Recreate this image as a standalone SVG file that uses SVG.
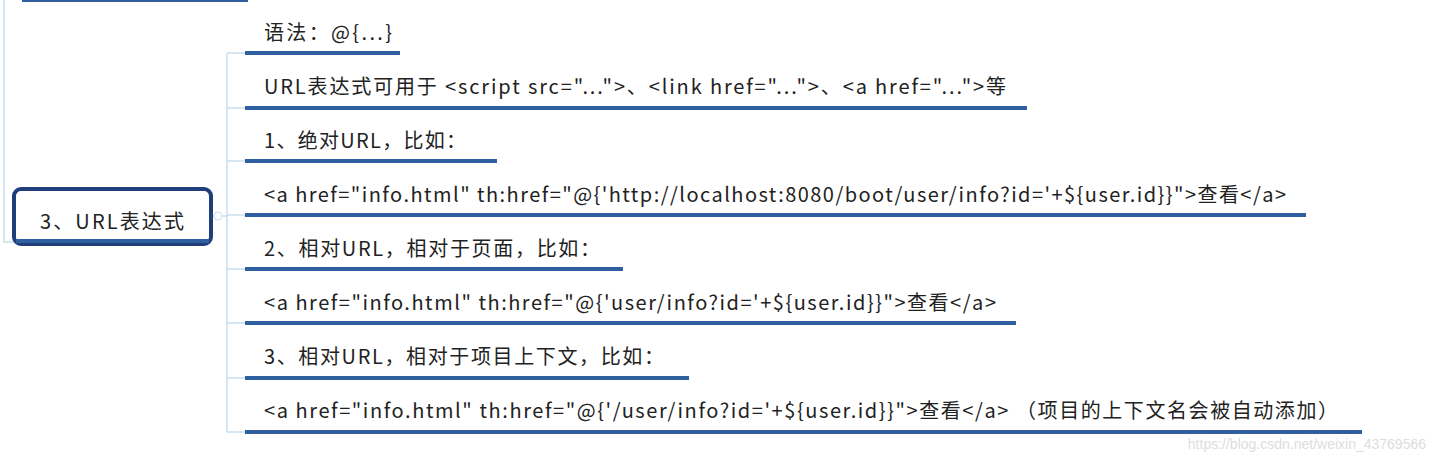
<svg xmlns="http://www.w3.org/2000/svg" width="1436" height="462" viewBox="0 0 1436 462">
<style>
text{font-family:"Noto Sans CJK SC","Liberation Sans",sans-serif;font-size:20px;fill:#222}
.ul{stroke:#2f5f9e;stroke-width:4}
.c{stroke:#c9def0;stroke-width:1.5;fill:none}
</style>
<rect width="1436" height="462" fill="#fff"/>
<g id="connectors">
<path class="c" d="M4 0V242H14"/>
<path class="c" d="M212 216H227M227 53V432M227 53H245M227 108H245M227 161H245M227 215H245M227 269H245M227 323H245M227 378H245M227 432H245"/>
<circle cx="218" cy="216" r="4" fill="#fff" stroke="#c9def0"/>
</g>
<g id="top"><rect x="22" y="-2" width="226" height="4" fill="#2f5f9e"/></g>
<g id="root">
<rect x="14" y="189" width="197" height="55" rx="7" fill="#fff" stroke="#1f3f7a" stroke-width="4"/>
<rect x="16" y="239" width="193" height="4" fill="#2f5f9e"/>
<text x="40" y="229" textLength="144">3、URL表达式</text>
</g>
<g id="n1"><text x="264" y="40" textLength="128">语法：@{...}</text><line class="ul" x1="245" y1="53" x2="400" y2="53"/></g>
<g id="n2"><text x="264" y="94" textLength="742">URL表达式可用于 &lt;script src="..."&gt;、&lt;link href="..."&gt;、&lt;a href="..."&gt;等</text><line class="ul" x1="245" y1="108" x2="1027" y2="108"/></g>
<g id="n3"><text x="264" y="148" textLength="202">1、绝对URL，比如：</text><line class="ul" x1="245" y1="161" x2="497" y2="161"/></g>
<g id="n4"><text x="264" y="202" textLength="1022">&lt;a href="info.html" th:href="@{'http://localhost:8080/boot/user/info?id='+${user.id}}"&gt;查看&lt;/a&gt;</text><line class="ul" x1="245" y1="215" x2="1306" y2="215"/></g>
<g id="n5"><text x="264" y="256" textLength="336">2、相对URL，相对于页面，比如：</text><line class="ul" x1="245" y1="269" x2="623" y2="269"/></g>
<g id="n6"><text x="264" y="310" textLength="732">&lt;a href="info.html" th:href="@{'user/info?id='+${user.id}}"&gt;查看&lt;/a&gt;</text><line class="ul" x1="245" y1="323" x2="1016" y2="323"/></g>
<g id="n7"><text x="264" y="364" textLength="400">3、相对URL，相对于项目上下文，比如：</text><line class="ul" x1="245" y1="378" x2="689" y2="378"/></g>
<g id="n8"><text x="264" y="418" textLength="1074">&lt;a href="info.html" th:href="@{'/user/info?id='+${user.id}}"&gt;查看&lt;/a&gt; （项目的上下文名会被自动添加）</text><line class="ul" x1="245" y1="432" x2="1362" y2="432"/></g>
<text x="1426" y="449" text-anchor="end" style="font-family:'Liberation Sans',sans-serif;font-size:14px;fill:#ddd">https://blog.csdn.net/weixin_43769566</text>
</svg>
